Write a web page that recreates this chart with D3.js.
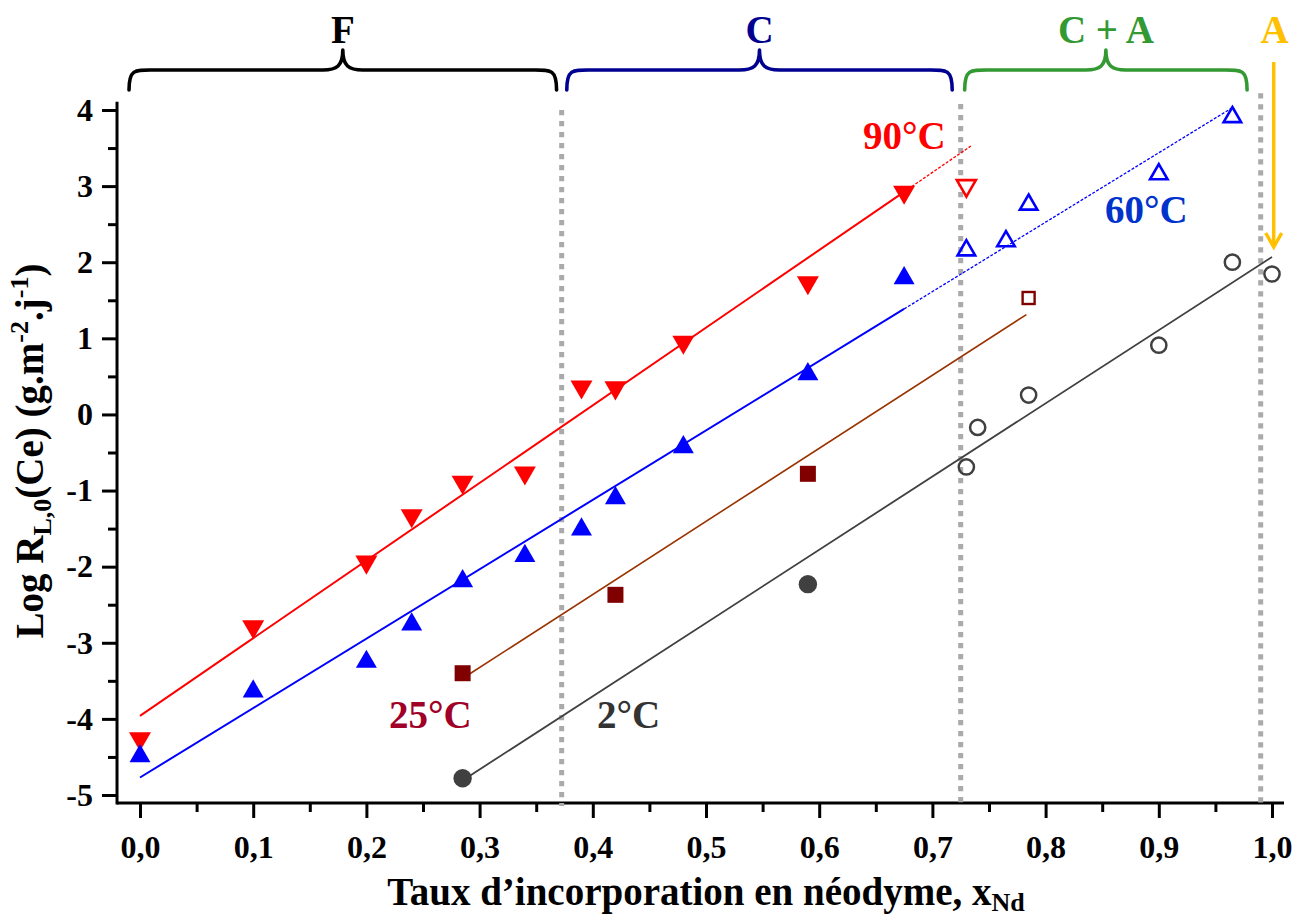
<!DOCTYPE html>
<html><head><meta charset="utf-8">
<script src="https://cdn.jsdelivr.net/npm/d3@7"></script>
<style>
body{margin:0;background:#fff}
text{font-family:"Liberation Serif","Times New Roman",serif;font-weight:bold}
</style>
</head><body>
<svg id="c" width="1296" height="920"></svg>
<script>
// ---------- data ----------
const xTicks=[0,0.1,0.2,0.3,0.4,0.5,0.6,0.7,0.8,0.9,1.0];
const xTickLabels=["0,0","0,1","0,2","0,3","0,4","0,5","0,6","0,7","0,8","0,9","1,0"];
const xMinorTicks=[0.05,0.15,0.25,0.35,0.45,0.55,0.65,0.75,0.85,0.95];
const yTicks=[-5,-4,-3,-2,-1,0,1,2,3,4];
const yTickLabels=["-5","-4","-3","-2","-1","0","1","2","3","4"];
const yMinorTicks=[-4.5,-3.5,-2.5,-1.5,-0.5,0.5,1.5,2.5,3.5];

// 90°C
const x90=[0,0.1,0.2,0.24,0.285,0.34,0.39,0.42,0.48,0.59,0.675];
const y90=[-4.3,-2.83,-1.98,-1.37,-0.93,-0.81,0.32,0.31,0.91,1.69,2.88];
const x90open=[0.73];
const y90open=[2.97];
// 60°C
const x60=[0,0.1,0.2,0.24,0.285,0.34,0.39,0.42,0.48,0.59,0.675];
const y60=[-4.45,-3.6,-3.21,-2.72,-2.15,-1.82,-1.47,-1.06,-0.39,0.57,1.83];
const x60open=[0.73,0.765,0.785,0.9,0.965];
const y60open=[2.19,2.31,2.79,3.19,3.94];
// 25°C
const x25=[0.285,0.42,0.59];
const y25=[-3.4,-2.37,-0.78];
const x25open=[0.785];
const y25open=[1.53];
// 2°C
const x2=[0.285,0.59];
const y2=[-4.78,-2.23];
const x2open=[0.73,0.74,0.785,0.9,0.965,1.0];
const y2open=[-0.69,-0.17,0.255,0.91,2.0,1.845];

// linear fits: y = intercept + slope * x
const fitNames=["90°C","60°C","25°C","2°C"];
const fitIntercept=[-3.96,-4.77,-6.205,-7.55];
const fitSlope=[10.2,9.12,9.6,9.62];
const fitSolidFrom=[0,0,0.288,0.288];
const fitSolidTo=[0.675,0.675,0.783,1.0];
const fitDashTo=[0.734,0.965,null,null];

// domain boundaries (dotted lines)
const boundaryX=[0.3725,0.725,0.99];
const boundaryTop=[4.0,4.08,4.22];

// phase braces
const braceLabels=["F","C","C + A"];
const braceFrom=[-0.0097,0.377,0.7285];
const braceTo=[0.368,0.7175,0.978];
const arrowLabel="A";
const arrowX=1.0015;

// ---------- layout ----------
const svg=d3.select("#c");
const x=d3.scaleLinear().domain([0,1]).range([140,1272]);
const y=d3.scaleLinear().domain([-5,4]).range([795,110]);
const xMin=-0.0203, xMax=1.0106, yMin=-5.105, yMax=4.11;
const FF="Liberation Serif, Times New Roman, serif";

// axes
const axisCol="#000";
const gx=svg.append("g").attr("transform",`translate(0,${y(yMin)})`);
gx.call(d3.axisBottom(x).tickValues(xTicks).tickSize(15).tickPadding(17)
  .tickFormat((d,i)=>xTickLabels[i]));
gx.call(g=>g.select(".domain").remove());
gx.selectAll(".tick line").attr("stroke",axisCol).attr("stroke-width",3);
gx.selectAll(".tick text").attr("font-size",32).attr("fill","#000")
  .attr("font-family",FF).attr("font-weight","bold");
const gxm=svg.append("g").attr("transform",`translate(0,${y(yMin)})`);
gxm.call(d3.axisBottom(x).tickValues(xMinorTicks).tickSize(9).tickFormat(""));
gxm.call(g=>g.select(".domain").remove());
gxm.selectAll(".tick line").attr("stroke",axisCol).attr("stroke-width",3);

const gy=svg.append("g").attr("transform",`translate(${x(xMin)},0)`);
gy.call(d3.axisLeft(y).tickValues(yTicks).tickSize(15).tickPadding(9)
  .tickFormat((d,i)=>yTickLabels[i]));
gy.call(g=>g.select(".domain").remove());
gy.selectAll(".tick line").attr("stroke",axisCol).attr("stroke-width",3);
gy.selectAll(".tick text").attr("font-size",32).attr("fill","#000")
  .attr("font-family",FF).attr("font-weight","bold");
const gym=svg.append("g").attr("transform",`translate(${x(xMin)},0)`);
gym.call(d3.axisLeft(y).tickValues(yMinorTicks).tickSize(9).tickFormat(""));
gym.call(g=>g.select(".domain").remove());
gym.selectAll(".tick line").attr("stroke",axisCol).attr("stroke-width",3);

svg.append("line").attr("x1",x(xMin)).attr("x2",x(xMax)).attr("y1",y(yMin)).attr("y2",y(yMin))
  .attr("stroke",axisCol).attr("stroke-width",3);
svg.append("line").attr("x1",x(xMin)).attr("x2",x(xMin)).attr("y1",y(yMax)).attr("y2",y(yMin)+1.5)
  .attr("stroke",axisCol).attr("stroke-width",3);

// axis titles
const xt=svg.append("text").attr("x",x(0.5)).attr("y",905).attr("text-anchor","middle")
  .attr("font-size",39).attr("fill","#000");
xt.append("tspan").text("Taux d’incorporation en néodyme, x");
xt.append("tspan").attr("font-size",26).attr("dy",6).text("Nd");

const yt=svg.append("text").attr("transform",`translate(43,451) rotate(-90)`)
  .attr("text-anchor","middle").attr("font-size",39).attr("fill","#000");
yt.append("tspan").text("Log R");
yt.append("tspan").attr("font-size",26).attr("dy",8).text("L,0");
yt.append("tspan").attr("dy",-8).text("(Ce) (g.m");
yt.append("tspan").attr("font-size",26).attr("dy",-15).text("-2");
yt.append("tspan").attr("dy",15).text(".j");
yt.append("tspan").attr("font-size",26).attr("dy",-15).text("-1");
yt.append("tspan").attr("dy",15).text(")");

// dotted boundaries
boundaryX.forEach((bx,i)=>{
  svg.append("line").attr("x1",x(bx)).attr("x2",x(bx))
    .attr("y1",y(boundaryTop[i])).attr("y2",y(yMin)+3)
    .attr("stroke","#aaaaaa").attr("stroke-width",5).attr("stroke-dasharray","5.3,5.7");
});

// braces
const braceColors=["#000000","#000090","#339933"];
braceLabels.forEach((lab,i)=>{
  const a=x(braceFrom[i]), b=x(braceTo[i]), m=(a+b)/2;
  const yb=90, yt2=70, ytip=50;
  const p=`M${a},${yb} C${a},${yt2-2} ${a+6},${yt2} ${a+28},${yt2} L${m-20},${yt2} C${m-6},${yt2} ${m},${yt2-4} ${m},${ytip}`+
          ` C${m},${yt2-4} ${m+6},${yt2} ${m+20},${yt2} L${b-28},${yt2} C${b-6},${yt2} ${b},${yt2-2} ${b},${yb}`;
  svg.append("path").attr("d",p).attr("fill","none").attr("stroke",braceColors[i])
    .attr("stroke-width",3.6).attr("stroke-linecap","round").attr("stroke-linejoin","round");
  svg.append("text").attr("x",m).attr("y",43).attr("text-anchor","middle")
    .attr("font-size",39).attr("fill",braceColors[i]).text(lab);
});
// arrow A
const arrowCol="#ffc000";
svg.append("line").attr("x1",x(arrowX)).attr("x2",x(arrowX)).attr("y1",62).attr("y2",246)
  .attr("stroke",arrowCol).attr("stroke-width",3.5);
svg.append("path").attr("d",`M${x(arrowX)-8},233 L${x(arrowX)},247 L${x(arrowX)+8},233`)
  .attr("fill","none").attr("stroke",arrowCol).attr("stroke-width",3.5).attr("stroke-linejoin","miter");
svg.append("text").attr("x",x(arrowX)+1).attr("y",43).attr("text-anchor","middle")
  .attr("font-size",39).attr("fill",arrowCol).text(arrowLabel);

// fit lines
const fitColors=["#ff0000","#0000ff","#993300","#404040"];
const fitWidths=[2,2,1.6,1.8];
fitNames.forEach((n,i)=>{
  const f=v=>fitIntercept[i]+fitSlope[i]*v;
  const line=d3.line().x(d=>x(d)).y(d=>y(f(d)));
  svg.append("path").attr("d",line([fitSolidFrom[i],fitSolidTo[i]])).attr("fill","none")
    .attr("stroke",fitColors[i]).attr("stroke-width",fitWidths[i]);
  if(fitDashTo[i]!==null){
    svg.append("path").attr("d",line([fitSolidTo[i],fitDashTo[i]])).attr("fill","none")
      .attr("stroke",fitColors[i]).attr("stroke-width",1.3).attr("stroke-dasharray","3,1.6");
  }
});

// markers
function tri(s,up){const h=s*Math.sqrt(3)/2;
  return up?`M0,${-h/2}L${s/2},${h/2}L${-s/2},${h/2}Z`:`M0,${h/2}L${s/2},${-h/2}L${-s/2},${-h/2}Z`;}
function drawPts(xs,ys,shape,opts){
  const g=svg.append("g");
  xs.forEach((xv,i)=>{
    const px=x(xv), py=y(ys[i]);
    if(shape==="circle"){
      g.append("circle").attr("cx",px).attr("cy",py).attr("r",opts.r)
        .attr("fill",opts.fill).attr("stroke",opts.stroke||"none").attr("stroke-width",opts.sw||0);
    } else if(shape==="square"){
      g.append("rect").attr("x",px-opts.s/2).attr("y",py-opts.s/2).attr("width",opts.s).attr("height",opts.s)
        .attr("fill",opts.fill).attr("stroke",opts.stroke||"none").attr("stroke-width",opts.sw||0);
    } else {
      g.append("path").attr("transform",`translate(${px},${py})`).attr("d",tri(opts.s,shape==="up"))
        .attr("fill",opts.fill).attr("stroke",opts.stroke||"none").attr("stroke-width",opts.sw||0)
        .attr("stroke-linejoin","miter");
    }
  });
}
drawPts(x90,y90,"down",{s:22,fill:"#ff0000"});
drawPts(x90open,y90open,"down",{s:19,fill:"#fff",stroke:"#ff0000",sw:2.6});
drawPts(x60,y60,"up",{s:21,fill:"#0000ff"});
drawPts(x60open,y60open,"up",{s:17.5,fill:"none",stroke:"#0000ff",sw:2.6});
drawPts(x25,y25,"square",{s:16,fill:"#800000"});
drawPts(x25open,y25open,"square",{s:12,fill:"#fff",stroke:"#800000",sw:2.4});
drawPts(x2,y2,"circle",{r:9.2,fill:"#404040"});
drawPts(x2open,y2open,"circle",{r:7.6,fill:"none",stroke:"#404040",sw:2.5});

// series labels
const seriesLabels=["90°C","60°C","25°C","2°C"];
const seriesLabelColors=["#ff0000","#0033cc","#a00028","#333333"];
const seriesLabelX=[863,1105,389,597];
const seriesLabelY=[149,223,728,728];
seriesLabels.forEach((t,i)=>{
  svg.append("text").attr("x",seriesLabelX[i]).attr("y",seriesLabelY[i]).attr("font-size",39)
    .attr("fill",seriesLabelColors[i]).text(t);
});
</script>
</body></html>
